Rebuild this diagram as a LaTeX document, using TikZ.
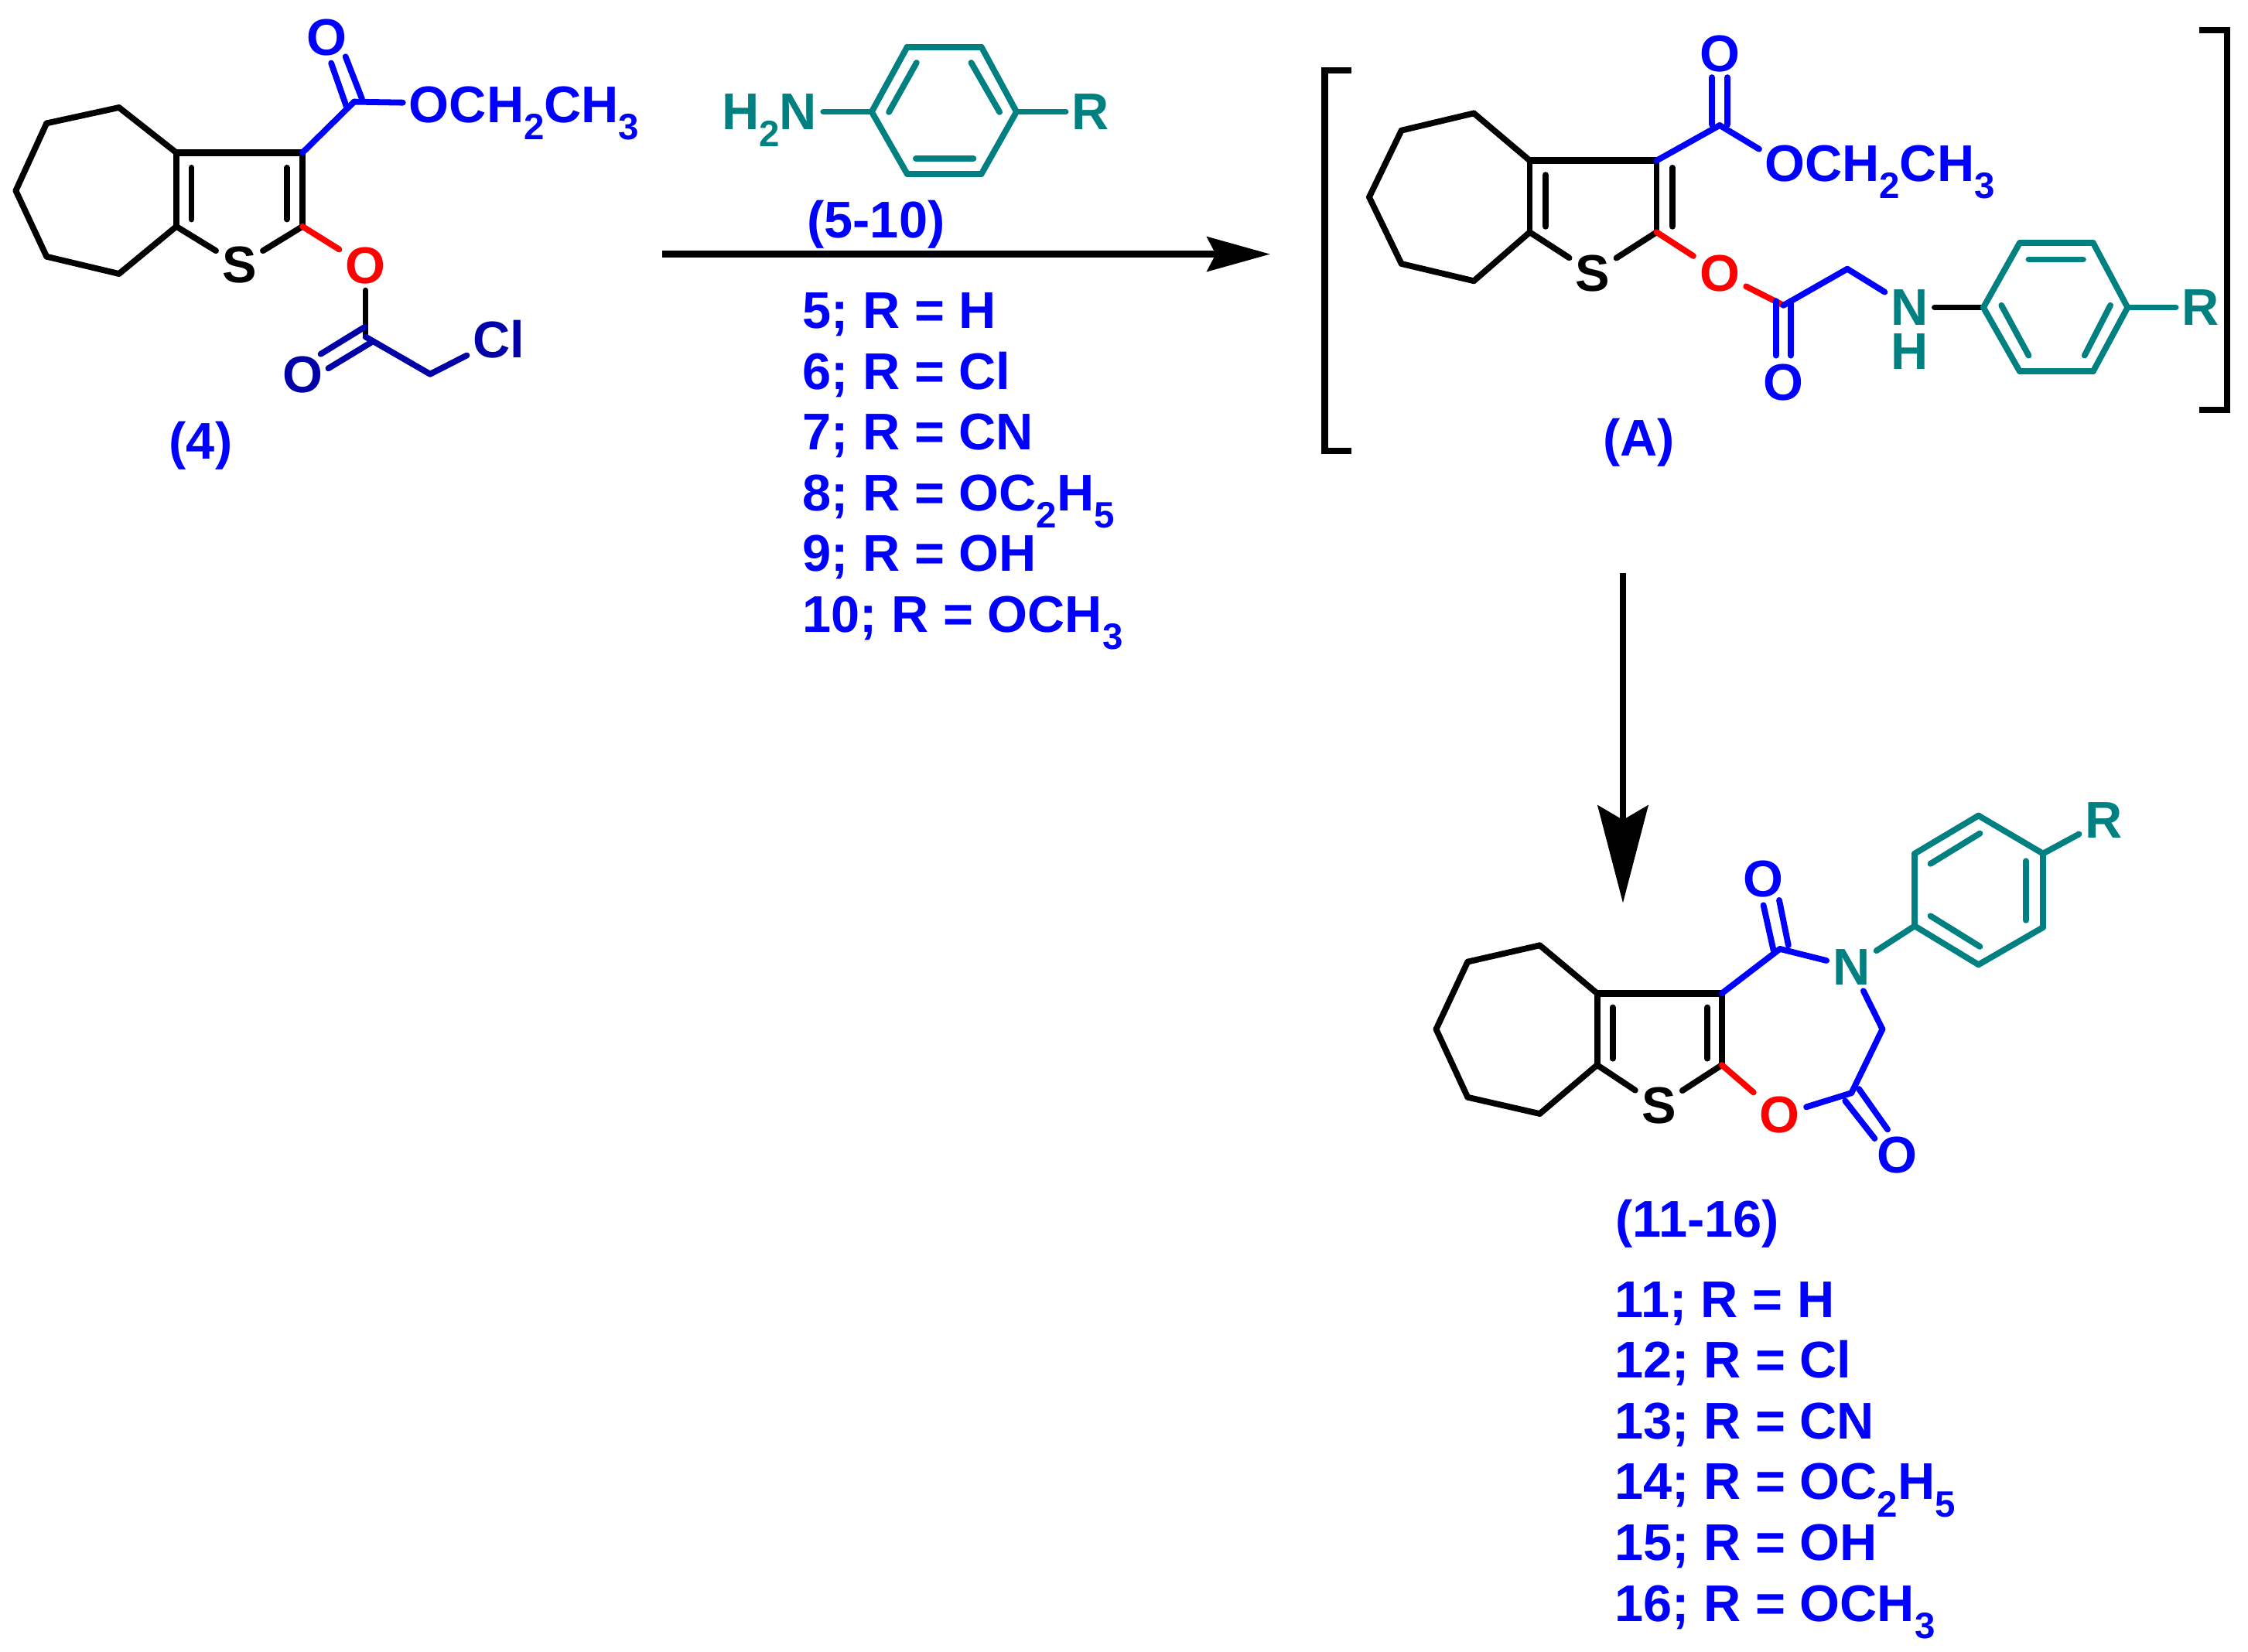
\documentclass[tikz,border=0pt]{standalone}
\usepackage{fontspec}
\setmainfont{Liberation Sans}
\usetikzlibrary{arrows.meta}
\definecolor{atomblue}{HTML}{0000FF}
\definecolor{atomred}{HTML}{FF0000}
\definecolor{atomteal}{HTML}{008080}
\definecolor{atomnavy}{HTML}{0000A6}
\newcommand{\lowidx}[1]{\raisebox{-6pt}[0pt][0pt]{\fontsize{12.8}{14}\selectfont #1}}
\tikzset{
	bond/.style={line width=2.1pt, line cap=round, line join=round},
	blackbond/.style={bond, black},
	heavybond/.style={bond, black, line width=2.4pt},
	bluebond/.style={bond, atomblue},
	redbond/.style={bond, atomred},
	tealbond/.style={bond, atomteal},
	navybond/.style={bond, atomnavy},
	atom/.style={inner sep=2pt, font=\fontsize{18}{20}\selectfont\bfseries},
	listline/.style={atom, inner sep=0pt, anchor=base west, text=atomblue},
	rxnarrow/.style={line width=2.4pt, -{Stealth[length=22pt, width=12pt, inset=3pt]}}
}

\begin{document}
\begin{tikzpicture}[x=0.5pt, y=-0.5pt]
	\useasboundingbox (0,0) rectangle (1568,1152);

	\coordinate (c1) at (123,106.5);
	\coordinate (c2) at (123,158);
	\coordinate (c3) at (83,75);
	\coordinate (c4) at (32.5,86);
	\coordinate (c5) at (11,133);
	\coordinate (c6) at (32.5,179);
	\coordinate (c7) at (83,191);
	\coordinate (c8) at (211,106.5);
	\coordinate (c9) at (211,158);
	\coordinate (c10) at (247,71);
	\coordinate (c11) at (255,235);
	\coordinate (c12) at (300,261);
	\node (cS) [atom] at (167,185) {S};
	\node (cO1) [atom, text=atomblue] at (228,26) {O};
	\node (cO2) [atom, text=atomblue, anchor=west] at (281,73) {OCH\lowidx{2}CH\lowidx{3}};
	\node (cO3) [atom, text=atomred] at (255,185.5) {O};
	\node (cO4) [atom, text=atomnavy] at (211,261.5) {O};
	\node (cCl) [atom, text=atomnavy] at (348,236.5) {Cl};
	\node (c4lab) [atom, text=atomblue] at (140,311) {(4)};
	\coordinate (c1i) at (133.5,117); \coordinate (c2i) at (133.5,153);
	\coordinate (c8i) at (200,117); \coordinate (c9i) at (200,153);
	\coordinate (d1) at (231,44); \coordinate (d2) at (241.5,74);
	\coordinate (d3) at (241,39.5); \coordinate (d4) at (252.5,69);
	\coordinate (d5) at (254.6,228); \coordinate (d6) at (223.7,247);
	\coordinate (d7) at (258.7,239); \coordinate (d8) at (229,257);

	\draw[blackbond] (c1) edge (c3); \draw[blackbond] (c3) edge (c4); \draw[blackbond] (c4) edge (c5);
	\draw[blackbond] (c5) edge (c6); \draw[blackbond] (c6) edge (c7); \draw[blackbond] (c7) edge (c2);
	\draw[blackbond] (c1) edge (c2); \draw[heavybond] (c1) edge (c8); \draw[blackbond] (c8) edge (c9);
	\draw[blackbond] (c2) edge (cS); \draw[blackbond] (c9) edge (cS);
	\draw[blackbond] (c1i) edge (c2i); \draw[blackbond] (c8i) edge (c9i);
	\draw[blackbond] (cO3) edge (c11);
	\draw[redbond] (c9) edge (cO3);
	\draw[bluebond] (c8) edge (c10); \draw[bluebond] (c10) edge (cO2);
	\draw[bluebond] (d1) edge (d2); \draw[bluebond] (d3) edge (d4);
	\draw[navybond] (d5) edge (d6); \draw[navybond] (d7) edge (d8);
	\draw[navybond] (c11) edge (c12); \draw[navybond] (c12) edge (cCl);

	\node (amN) [atom, text=atomteal, anchor=west] at (499.2,78) {H\lowidx{2}N};
	\node (amR) [atom, text=atomteal] at (760.7,78) {R};
	\coordinate (am1) at (608,78);
	\coordinate (am2) at (632.8,32.7);
	\coordinate (am3) at (684.5,32.7);
	\coordinate (am4) at (709,78);
	\coordinate (am5) at (684.5,121.4);
	\coordinate (am6) at (632.8,121.4);
	\coordinate (am7) at (639.3,43.7); \coordinate (am8) at (620,78.2);
	\coordinate (am9) at (677.4,43.7); \coordinate (am10) at (697.2,78.2);
	\coordinate (am11) at (638.8,110.6); \coordinate (am12) at (679,110.6);
	\draw[tealbond] (amN) edge (am1); \draw[tealbond] (am1) edge (am2); \draw[tealbond] (am2) edge (am3);
	\draw[tealbond] (am3) edge (am4); \draw[tealbond] (am4) edge (am5); \draw[tealbond] (am5) edge (am6);
	\draw[tealbond] (am6) edge (am1); \draw[tealbond] (am4) edge (amR);
	\draw[tealbond] (am7) edge (am8); \draw[tealbond] (am9) edge (am10); \draw[tealbond] (am11) edge (am12);

	\node (amlab) [atom, text=atomblue] at (611,156.5) {(5-10)};
	\coordinate (ar1) at (462,177.3);
	\coordinate (ar2) at (886,177.3);
	\draw[rxnarrow] (ar1) -- (ar2);
	\node (am5l) [listline] at (559.5,229) {5; R = H};
	\node (am6l) [listline] at (559.5,271.4) {6; R = Cl};
	\node (am7l) [listline] at (559.5,313.8) {7; R = CN};
	\node (am8l) [listline] at (559.5,356.2) {8; R = OC\lowidx{2}H\lowidx{5}};
	\node (am9l) [listline] at (559.5,398.6) {9; R = OH};
	\node (am10l) [listline] at (559.5,441) {10; R = OCH\lowidx{3}};

	\coordinate (i1) at (1067,112);
	\coordinate (i2) at (1067,162);
	\coordinate (i3) at (1028,79);
	\coordinate (i4) at (977.5,91);
	\coordinate (i5) at (955,137.5);
	\coordinate (i6) at (977.5,184);
	\coordinate (i7) at (1028,196);
	\coordinate (i8) at (1155.5,112);
	\coordinate (i9) at (1155.5,162);
	\coordinate (i10) at (1199.5,87.4);
	\coordinate (i11) at (1244,213);
	\coordinate (i12) at (1288.5,187.6);
	\coordinate (i13) at (1227,104);
	\node (iS) [atom] at (1111,190.5) {S};
	\node (iO1) [atom, text=atomblue] at (1199.5,37.5) {O};
	\node (iO2) [atom, text=atomblue, anchor=west] at (1226.5,114) {OCH\lowidx{2}CH\lowidx{3}};
	\node (iO3) [atom, text=atomred] at (1199.5,190.5) {O};
	\node (iO4) [atom, text=atomblue] at (1244,267) {O};
	\node (iN) [atom, text=atomteal, inner ysep=0pt] at (1332,214.5) {N};
	\node (iH) [atom, text=atomteal, inner ysep=0pt] at (1332,245) {H};
	\node (iR) [atom, text=atomteal] at (1535,214.5) {R};
	\node (ilab) [atom, text=atomblue] at (1143,308.5) {(A)};
	\coordinate (b1) at (1383.4,214.5);
	\coordinate (b2) at (1408.7,169.5);
	\coordinate (b3) at (1460,169.5);
	\coordinate (b4) at (1484,214.5);
	\coordinate (b5) at (1460,259);
	\coordinate (b6) at (1408.7,259);
	\coordinate (b7) at (1415,181); \coordinate (b8) at (1453,181);
	\coordinate (b9) at (1396,213); \coordinate (b10) at (1415,248);
	\coordinate (b11) at (1472,213); \coordinate (b12) at (1454,248);
	\coordinate (i1i) at (1078,122); \coordinate (i2i) at (1078,158);
	\coordinate (i8i) at (1166.5,117); \coordinate (i9i) at (1166.5,158);
	\coordinate (e1) at (1194,54); \coordinate (e2) at (1194,87);
	\coordinate (e3) at (1205,54); \coordinate (e4) at (1205,87);
	\coordinate (e5) at (1238.7,210); \coordinate (e6) at (1238.7,248);
	\coordinate (e7) at (1249,210); \coordinate (e8) at (1249,248);

	\draw[blackbond] (i1) edge (i3); \draw[blackbond] (i3) edge (i4); \draw[blackbond] (i4) edge (i5);
	\draw[blackbond] (i5) edge (i6); \draw[blackbond] (i6) edge (i7); \draw[blackbond] (i7) edge (i2);
	\draw[blackbond] (i1) edge (i2); \draw[heavybond] (i1) edge (i8); \draw[blackbond] (i8) edge (i9);
	\draw[blackbond] (i2) edge (iS); \draw[blackbond] (i9) edge (iS);
	\draw[blackbond] (i1i) edge (i2i); \draw[blackbond] (i8i) edge (i9i);
	\draw[blackbond] (iN) edge (b1);
	\draw[redbond] (i9) edge (iO3); \draw[redbond] (iO3) edge (i11);
	\draw[bluebond] (i8) edge (i10); \draw[bluebond] (i10) edge (i13);
	\draw[bluebond] (e1) edge (e2); \draw[bluebond] (e3) edge (e4);
	\draw[bluebond] (e5) edge (e6); \draw[bluebond] (e7) edge (e8);
	\draw[bluebond] (i11) edge (i12); \draw[bluebond] (i12) edge (iN);
	\draw[tealbond] (b1) edge (b2); \draw[tealbond] (b2) edge (b3); \draw[tealbond] (b3) edge (b4);
	\draw[tealbond] (b4) edge (b5); \draw[tealbond] (b5) edge (b6); \draw[tealbond] (b6) edge (b1);
	\draw[tealbond] (b4) edge (iR);
	\draw[tealbond] (b7) edge (b8); \draw[tealbond] (b9) edge (b10); \draw[tealbond] (b11) edge (b12);

	\coordinate (lb1) at (942.5,49);
	\coordinate (lb2) at (924,49);
	\coordinate (lb3) at (924,314.5);
	\coordinate (lb4) at (942.5,314.5);
	\coordinate (rb1) at (1534,21);
	\coordinate (rb2) at (1553.5,21);
	\coordinate (rb3) at (1553.5,286);
	\coordinate (rb4) at (1534,286);
	\draw[line width=2.2pt] (lb1) -- (lb2) -- (lb3) -- (lb4);
	\draw[line width=2.2pt] (rb1) -- (rb2) -- (rb3) -- (rb4);

	\coordinate (ar3) at (1132,400);
	\coordinate (ar4) at (1132,630);
	\draw[rxnarrow, -{Stealth[length=34pt, width=17.5pt, inset=5pt]}] (ar3) -- (ar4);

	\coordinate (p1) at (1114,693);
	\coordinate (p2) at (1114,743);
	\coordinate (p3) at (1074,659.5);
	\coordinate (p4) at (1023.7,671);
	\coordinate (p5) at (1001.7,718);
	\coordinate (p6) at (1023.7,765.5);
	\coordinate (p7) at (1074,777);
	\coordinate (p8) at (1201,693);
	\coordinate (p9) at (1201,743);
	\coordinate (p10) at (1241.5,662);
	\coordinate (p11) at (1291.4,762.5);
	\coordinate (p12) at (1313,718);
	\node (pS) [atom] at (1157,771.5) {S};
	\node (pO1) [atom, text=atomblue] at (1230,613) {O};
	\node (pO2) [atom, text=atomred] at (1241.5,778) {O};
	\node (pO3) [atom, text=atomblue] at (1323,806) {O};
	\node (pN) [atom, text=atomteal] at (1291.4,674.5) {N};
	\node (pR) [atom, text=atomteal] at (1467.5,572.5) {R};
	\coordinate (q1) at (1335.5,646);
	\coordinate (q2) at (1335.5,595.5);
	\coordinate (q3) at (1380,569);
	\coordinate (q4) at (1425,595.5);
	\coordinate (q5) at (1425,647);
	\coordinate (q6) at (1380,673);
	\coordinate (q7) at (1346.5,602.6); \coordinate (q8) at (1381,581.4);
	\coordinate (q9) at (1413,600.7); \coordinate (q10) at (1413,642);
	\coordinate (q11) at (1346.5,639); \coordinate (q12) at (1381,660.4);
	\coordinate (p1i) at (1124.9,702.8); \coordinate (p2i) at (1124.9,738.5);
	\coordinate (p8i) at (1191,702.8); \coordinate (p9i) at (1191,738.5);
	\coordinate (f1) at (1230,631.5); \coordinate (f2) at (1237,663);
	\coordinate (f3) at (1241,628); \coordinate (f4) at (1247.4,659.5);
	\coordinate (f5) at (1296.6,759.7); \coordinate (f6) at (1316.6,788);
	\coordinate (f7) at (1287,768); \coordinate (f8) at (1307.6,794.3);

	\draw[blackbond] (p1) edge (p3); \draw[blackbond] (p3) edge (p4); \draw[blackbond] (p4) edge (p5);
	\draw[blackbond] (p5) edge (p6); \draw[blackbond] (p6) edge (p7); \draw[blackbond] (p7) edge (p2);
	\draw[blackbond] (p1) edge (p2); \draw[heavybond] (p1) edge (p8); \draw[blackbond] (p8) edge (p9);
	\draw[blackbond] (p2) edge (pS); \draw[blackbond] (p9) edge (pS);
	\draw[blackbond] (p1i) edge (p2i); \draw[blackbond] (p8i) edge (p9i);
	\draw[redbond] (p9) edge (pO2);
	\draw[bluebond] (p8) edge (p10); \draw[bluebond] (p10) edge (pN);
	\draw[bluebond] (f1) edge (f2); \draw[bluebond] (f3) edge (f4);
	\draw[bluebond] (f5) edge (f6); \draw[bluebond] (f7) edge (f8);
	\draw[bluebond] (pO2) edge (p11); \draw[bluebond] (p11) edge (p12); \draw[bluebond] (p12) edge (pN);
	\draw[tealbond] (pN) edge (q1);
	\draw[tealbond] (q1) edge (q2); \draw[tealbond] (q2) edge (q3); \draw[tealbond] (q3) edge (q4);
	\draw[tealbond] (q4) edge (q5); \draw[tealbond] (q5) edge (q6); \draw[tealbond] (q6) edge (q1);
	\draw[tealbond] (q4) edge (pR);
	\draw[tealbond] (q7) edge (q8); \draw[tealbond] (q9) edge (q10); \draw[tealbond] (q11) edge (q12);

	\node (plab) [atom, text=atomblue] at (1184,853.5) {(11-16)};
	\node (p11l) [listline] at (1126,919) {11; R = H};
	\node (p12l) [listline] at (1126,961.4) {12; R = Cl};
	\node (p13l) [listline] at (1126,1003.8) {13; R = CN};
	\node (p14l) [listline] at (1126,1046.2) {14; R = OC\lowidx{2}H\lowidx{5}};
	\node (p15l) [listline] at (1126,1088.6) {15; R = OH};
	\node (p16l) [listline] at (1126,1131) {16; R = OCH\lowidx{3}};
\end{tikzpicture}
\end{document}
